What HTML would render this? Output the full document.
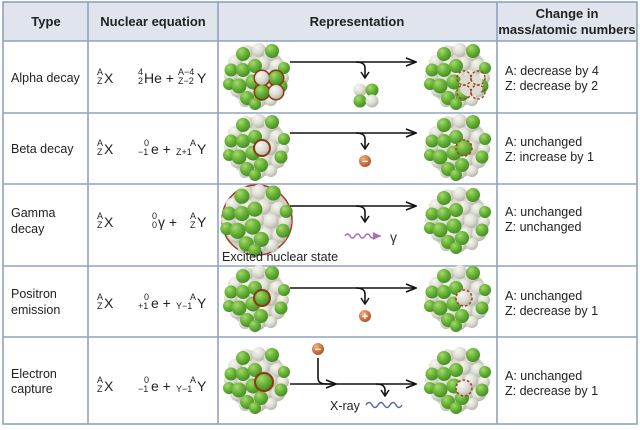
<!DOCTYPE html>
<html><head><meta charset="utf-8"><style>
body{margin:0;background:#fff;}
svg{display:block;font-family:"Liberation Sans",sans-serif;}
</style></head><body>
<svg width="640" height="430" viewBox="0 0 640 430" xmlns="http://www.w3.org/2000/svg">
<defs>
<radialGradient id="gg" cx="35%" cy="30%" r="70%"><stop offset="0" stop-color="#a8d870"/><stop offset="0.5" stop-color="#6cb63a"/><stop offset="1" stop-color="#468f26"/></radialGradient>
<radialGradient id="gy" cx="35%" cy="30%" r="70%"><stop offset="0" stop-color="#f7f7f2"/><stop offset="0.6" stop-color="#dcdcd3"/><stop offset="1" stop-color="#b8b8ac"/></radialGradient>
<radialGradient id="base" cx="45%" cy="40%" r="60%"><stop offset="0" stop-color="#e6e6de"/><stop offset="1" stop-color="#c4c4b8"/></radialGradient>
<radialGradient id="eo" cx="35%" cy="30%" r="70%"><stop offset="0" stop-color="#f2b27a"/><stop offset="1" stop-color="#b5552a"/></radialGradient>
<g id="nuc">
<circle r="30" fill="url(#base)"/>
<g fill="url(#gy)">
<circle cx="-11" cy="-24" r="7"/><circle cx="2" cy="-26" r="7"/><circle cx="14" cy="-22" r="7"/><circle cx="-22" cy="-14" r="7"/><circle cx="-8" cy="-12" r="7"/><circle cx="6" cy="-12" r="7"/><circle cx="20" cy="-10" r="7"/><circle cx="-26" cy="0" r="7"/><circle cx="-13" cy="1" r="7"/><circle cx="0" cy="0" r="7"/><circle cx="13" cy="1" r="7"/><circle cx="26" cy="2" r="6"/><circle cx="-20" cy="14" r="7"/><circle cx="-6" cy="14" r="7"/><circle cx="8" cy="14" r="7"/><circle cx="21" cy="14" r="7"/><circle cx="-12" cy="25" r="6"/><circle cx="2" cy="26" r="6"/><circle cx="14" cy="24" r="6"/>
</g>
<g fill="url(#gg)">
<circle cx="-14" cy="-22" r="7"/><circle cx="15" cy="-25" r="7"/><circle cx="27" cy="-8" r="6"/><circle cx="-26" cy="-6" r="6.5"/><circle cx="-14" cy="-6" r="7"/><circle cx="-2" cy="-10" r="7"/><circle cx="-28" cy="8" r="6"/><circle cx="-18" cy="10" r="7.5"/><circle cx="-4" cy="6" r="7.5"/><circle cx="-10" cy="22" r="7"/><circle cx="4" cy="18" r="7"/><circle cx="-2" cy="28" r="6"/><circle cx="24" cy="10" r="6.5"/>
</g>
</g>
<marker id="ah" markerWidth="12" markerHeight="10" refX="11" refY="5" orient="auto" markerUnits="userSpaceOnUse"><path d="M1,1 L11,5 L1,9" fill="none" stroke="#111" stroke-width="1.6"/></marker>
<marker id="ahs" markerWidth="10" markerHeight="10" refX="5" refY="9" orient="0" markerUnits="userSpaceOnUse"><path d="M1,3 L5,9 L9,3" fill="none" stroke="#111" stroke-width="1.5"/></marker>
<marker id="ahp" markerWidth="10" markerHeight="10" refX="9" refY="5" orient="auto" markerUnits="userSpaceOnUse"><path d="M1,1 L9,5 L1,9 Z" fill="#b06aba"/></marker>
</defs>

<rect x="3" y="2" width="634" height="39" fill="#dfe4ed"/>
<g stroke="#8fa2c2" stroke-width="1.6" fill="none">
<rect x="3" y="2" width="634" height="422"/>
<line x1="3" y1="41" x2="637" y2="41"/><line x1="3" y1="113" x2="637" y2="113"/><line x1="3" y1="184" x2="637" y2="184"/><line x1="3" y1="266" x2="637" y2="266"/><line x1="3" y1="337" x2="637" y2="337"/>
<line x1="88" y1="2" x2="88" y2="424"/><line x1="218" y1="2" x2="218" y2="424"/><line x1="497" y1="2" x2="497" y2="424"/>
</g>
<g font-weight="bold" font-size="13" fill="#222" text-anchor="middle">
<text x="46" y="26">Type</text><text x="153" y="26">Nuclear equation</text><text x="357" y="26">Representation</text>
<text x="567" y="18">Change in</text><text x="567" y="34">mass/atomic numbers</text>
</g>
<g font-size="12.5" fill="#222">
<text x="11" y="82">Alpha decay</text>
<text x="11" y="153">Beta decay</text>
<text x="11" y="217">Gamma</text><text x="11" y="233">decay</text>
<text x="11" y="298">Positron</text><text x="11" y="314">emission</text>
<text x="11" y="378">Electron</text><text x="11" y="393">capture</text>
<text x="505" y="75">A: decrease by 4</text><text x="505" y="90">Z: decrease by 2</text>
<text x="505" y="146">A: unchanged</text><text x="505" y="161">Z: increase by 1</text>
<text x="505" y="216">A: unchanged</text><text x="505" y="231">Z: unchanged</text>
<text x="505" y="300">A: unchanged</text><text x="505" y="315">Z: decrease by 1</text>
<text x="505" y="380">A: unchanged</text><text x="505" y="395">Z: decrease by 1</text>
</g>
<g fill="#222">
<g font-size="9"><text x="97" y="75">A</text><text x="97" y="84">Z</text><text x="97" y="146">A</text><text x="97" y="155">Z</text><text x="97" y="219">A</text><text x="97" y="228">Z</text><text x="97" y="300">A</text><text x="97" y="309">Z</text><text x="97" y="383">A</text><text x="97" y="392">Z</text></g>
<g font-size="14"><text x="104" y="83">X</text><text x="104" y="154">X</text><text x="104" y="227">X</text><text x="104" y="308">X</text><text x="104" y="391">X</text></g>
<text x="138" y="75" font-size="9">4</text><text x="138" y="84" font-size="9">2</text>
<text x="144" y="83" font-size="14">He + </text>
<text x="178" y="75" font-size="9">A−4</text><text x="178" y="84" font-size="9">Z−2</text>
<text x="197" y="83" font-size="14">Y</text>
<text x="144" y="146" font-size="9">0</text><text x="138" y="155" font-size="9">−1</text>
<text x="151" y="154" font-size="14">e + </text>
<text x="190" y="146" font-size="9">A</text><text x="176" y="155" font-size="9">Z+1</text>
<text x="197" y="154" font-size="14">Y</text>
<text x="152" y="219" font-size="9">0</text><text x="152" y="228" font-size="9">0</text>
<text x="158" y="227" font-size="14">γ  +</text>
<text x="190" y="219" font-size="9">A</text><text x="190" y="228" font-size="9">Z</text>
<text x="197" y="227" font-size="14">Y</text>
<text x="144" y="300" font-size="9">0</text><text x="138" y="309" font-size="9">+1</text>
<text x="151" y="308" font-size="14">e + </text>
<text x="190" y="300" font-size="9">A</text><text x="176" y="309" font-size="9">Y−1</text>
<text x="197" y="308" font-size="14">Y</text>
<text x="144" y="383" font-size="9">0</text><text x="138" y="392" font-size="9">−1</text>
<text x="151" y="391" font-size="14">e + </text>
<text x="190" y="383" font-size="9">A</text><text x="176" y="392" font-size="9">Y−1</text>
<text x="197" y="391" font-size="14">Y</text>
</g>

<use href="#nuc" x="257" y="76"/><use href="#nuc" x="458" y="76"/>
<use href="#nuc" x="257" y="147"/><use href="#nuc" x="458" y="147"/>
<circle cx="257" cy="220" r="35" fill="#d2d2c8" stroke="#9a3a1e" stroke-width="1.5"/>
<use href="#nuc" transform="translate(257,220) scale(1.08)"/>
<use href="#nuc" x="458" y="220"/>
<use href="#nuc" x="257" y="298"/><use href="#nuc" x="458" y="298"/>
<use href="#nuc" x="257" y="380"/><use href="#nuc" x="458" y="380"/>

<g stroke="#8a3a14" stroke-width="3" fill="none"><circle cx="262" cy="78" r="7"/><circle cx="276" cy="78" r="7"/><circle cx="262" cy="92" r="7"/><circle cx="276" cy="92" r="7"/></g>
<circle cx="262" cy="78" r="7" fill="url(#gy)"/><circle cx="276" cy="78" r="7" fill="url(#gg)"/><circle cx="262" cy="92" r="7" fill="url(#gg)"/><circle cx="276" cy="92" r="7" fill="url(#gy)"/>
<circle cx="471" cy="85" r="12" fill="#dedcd2"/>
<g stroke="#a0401e" stroke-width="1.4" stroke-dasharray="2.5,2" fill="none"><circle cx="464" cy="78" r="7"/><circle cx="478" cy="78" r="7"/><circle cx="464" cy="92" r="7"/><circle cx="478" cy="92" r="7"/></g>
<circle cx="360" cy="90" r="6.5" fill="url(#gy)"/><circle cx="372" cy="90" r="6.5" fill="url(#gg)"/><circle cx="360" cy="101" r="6.5" fill="url(#gg)"/><circle cx="372" cy="101" r="6.5" fill="url(#gy)"/>

<circle cx="262" cy="148" r="8" fill="url(#gy)" stroke="#8a3a14" stroke-width="2"/>
<circle cx="464" cy="148" r="8" fill="url(#gg)" stroke="#a0401e" stroke-width="1.5" stroke-dasharray="2.5,2"/>
<circle cx="262" cy="298" r="8" fill="url(#gg)" stroke="#8a3a14" stroke-width="2"/>
<circle cx="464" cy="298" r="8" fill="url(#gy)" stroke="#a0401e" stroke-width="1.5" stroke-dasharray="2.5,2"/>
<circle cx="264" cy="382" r="9" fill="url(#gg)" stroke="#8a3a14" stroke-width="2"/>
<circle cx="464" cy="388" r="8" fill="url(#gy)" stroke="#a0401e" stroke-width="1.5" stroke-dasharray="2.5,2"/>

<g stroke="#111" stroke-width="1.6" fill="none">
<line x1="290" y1="62" x2="416" y2="62" marker-end="url(#ah)"/>
<path d="M356,62 q9,0 9,6 v10" marker-end="url(#ahs)"/>
<line x1="290" y1="133" x2="416" y2="133" marker-end="url(#ah)"/>
<path d="M356,133 q9,0 9,6 v10" marker-end="url(#ahs)"/>
<line x1="290" y1="206" x2="416" y2="206" marker-end="url(#ah)"/>
<path d="M356,206 q9,0 9,6 v10" marker-end="url(#ahs)"/>
<line x1="290" y1="288" x2="416" y2="288" marker-end="url(#ah)"/>
<path d="M356,288 q9,0 9,6 v10" marker-end="url(#ahs)"/>
<line x1="290" y1="384" x2="416" y2="384" marker-end="url(#ah)"/>
<path d="M318,358 v20 q0,6 8,6 h10" marker-end="url(#ah)"/>
<path d="M376,384 q9,0 9,6 v6" marker-end="url(#ahs)"/>
</g>
<circle cx="365" cy="161" r="6" fill="url(#eo)"/><text x="365" y="165" font-size="11" fill="#fff" text-anchor="middle" font-weight="bold">−</text>
<circle cx="365" cy="316" r="6" fill="url(#eo)"/><text x="365" y="320" font-size="11" fill="#fff" text-anchor="middle" font-weight="bold">+</text>
<circle cx="318" cy="349" r="6" fill="url(#eo)"/><text x="318" y="353" font-size="11" fill="#fff" text-anchor="middle" font-weight="bold">−</text>
<path d="M345,236 q2.5,-4 5,0 t5,0 t5,0 t5,0 t5,0 t5,0 h6" fill="none" stroke="#b06aba" stroke-width="1.5" marker-end="url(#ahp)"/>
<text x="390" y="242" font-size="14" fill="#333">γ</text>
<text x="222" y="261" font-size="12.5" fill="#222">Excited nuclear state</text>
<text x="330" y="410" font-size="12.5" fill="#222">X-ray</text>
<path d="M366,405 q3,-5 6,0 t6,0 t6,0 t6,0 t6,0 t6,0" fill="none" stroke="#5566aa" stroke-width="1.4"/>
</svg>
</body></html>
